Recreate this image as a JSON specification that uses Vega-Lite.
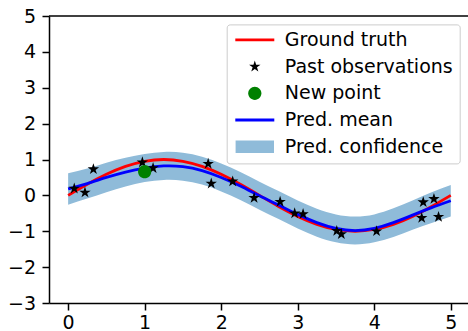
{
  "$schema": "https://vega.github.io/schema/vega-lite/v6.json",
  "width": 419,
  "height": 287,
  "autosize": {"type": "none"},
  "padding": {"left": 49, "top": 16, "right": 0, "bottom": 28},
  "background": "white",
  "config": {
    "view": {"stroke": null},
    "axis": {
      "labelFont": "DejaVu Sans",
      "labelFontSize": 19,
      "labelColor": "#000000",
      "tickColor": "#000000",
      "domainColor": "#000000",
      "tickWidth": 1.5,
      "domainWidth": 1.5,
      "tickSize": 7,
      "grid": false,
      "title": null,
      "labelFlush": false,
      "labelOverlap": false
    },
    "axisY": {"labelOverlap": false, "tickCount": 9, "labelPadding": 6.5},
    "axisX": {"labelOverlap": false, "tickCount": 6, "labelPadding": 3},
    "legend": {
      "orient": "none",
      "legendX": 177.7,
      "legendY": 8.4,
      "title": null,
      "padding": 6,
      "fillColor": "rgba(255,255,255,0.8)",
      "strokeColor": "#cccccc",
      "cornerRadius": 3,
      "labelFont": "DejaVu Sans",
      "labelFontSize": 19,
      "labelColor": "#000000",
      "labelLimit": 400,
      "rowPadding": 6.7,
      "symbolSize": 144,
      "symbolStrokeWidth": 0,
      "symbolOffset": 12.6,
      "labelOffset": 20.5
    }
  },
  "datasets": {
    "curve": [
      {"x": 0.0, "truth": 0.0, "mean": 0.18, "lo": -0.26, "hi": 0.62},
      {"x": 0.25, "truth": 0.309, "mean": 0.33, "lo": -0.09, "hi": 0.75},
      {"x": 0.5, "truth": 0.5878, "mean": 0.5, "lo": 0.09, "hi": 0.91},
      {"x": 0.75, "truth": 0.809, "mean": 0.65, "lo": 0.25, "hi": 1.05},
      {"x": 1.0, "truth": 0.9511, "mean": 0.76, "lo": 0.37, "hi": 1.15},
      {"x": 1.25, "truth": 1.0, "mean": 0.82, "lo": 0.43, "hi": 1.21},
      {"x": 1.5, "truth": 0.9511, "mean": 0.8, "lo": 0.41, "hi": 1.19},
      {"x": 1.75, "truth": 0.809, "mean": 0.69, "lo": 0.3, "hi": 1.08},
      {"x": 2.0, "truth": 0.5878, "mean": 0.5, "lo": 0.11, "hi": 0.89},
      {"x": 2.25, "truth": 0.309, "mean": 0.26, "lo": -0.13, "hi": 0.65},
      {"x": 2.5, "truth": 0.0, "mean": -0.01, "lo": -0.4, "hi": 0.38},
      {"x": 2.75, "truth": -0.309, "mean": -0.27, "lo": -0.66, "hi": 0.12},
      {"x": 3.0, "truth": -0.5878, "mean": -0.53, "lo": -0.92, "hi": -0.14},
      {"x": 3.25, "truth": -0.809, "mean": -0.76, "lo": -1.15, "hi": -0.37},
      {"x": 3.5, "truth": -0.9511, "mean": -0.92, "lo": -1.31, "hi": -0.53},
      {"x": 3.75, "truth": -1.0, "mean": -0.98, "lo": -1.37, "hi": -0.59},
      {"x": 4.0, "truth": -0.9511, "mean": -0.92, "lo": -1.31, "hi": -0.53},
      {"x": 4.25, "truth": -0.809, "mean": -0.76, "lo": -1.16, "hi": -0.36},
      {"x": 4.5, "truth": -0.5878, "mean": -0.55, "lo": -0.96, "hi": -0.14},
      {"x": 4.75, "truth": -0.309, "mean": -0.34, "lo": -0.77, "hi": 0.09},
      {"x": 5.0, "truth": 0.0, "mean": -0.15, "lo": -0.59, "hi": 0.29}
    ],
    "obs": [
      {"x": 0.08, "y": 0.19, "series": "Past observations"},
      {"x": 0.22, "y": 0.08, "series": "Past observations"},
      {"x": 0.33, "y": 0.73, "series": "Past observations"},
      {"x": 0.97, "y": 0.92, "series": "Past observations"},
      {"x": 1.11, "y": 0.76, "series": "Past observations"},
      {"x": 1.83, "y": 0.88, "series": "Past observations"},
      {"x": 1.87, "y": 0.33, "series": "Past observations"},
      {"x": 2.15, "y": 0.39, "series": "Past observations"},
      {"x": 2.43, "y": -0.07, "series": "Past observations"},
      {"x": 2.77, "y": -0.18, "series": "Past observations"},
      {"x": 2.96, "y": -0.5, "series": "Past observations"},
      {"x": 3.07, "y": -0.52, "series": "Past observations"},
      {"x": 3.51, "y": -0.99, "series": "Past observations"},
      {"x": 3.57, "y": -1.08, "series": "Past observations"},
      {"x": 4.03, "y": -1.0, "series": "Past observations"},
      {"x": 4.62, "y": -0.63, "series": "Past observations"},
      {"x": 4.64, "y": -0.19, "series": "Past observations"},
      {"x": 4.78, "y": -0.1, "series": "Past observations"},
      {"x": 4.84, "y": -0.6, "series": "Past observations"},
      {"x": 1.0, "y": 0.66, "series": "New point"}
    ]
  },
  "layer": [
    {
      "data": {"name": "curve"},
      "mark": {"type": "area", "color": "#8fbbd9", "opacity": 1, "interpolate": "natural"},
      "encoding": {
        "x": {
          "field": "x", "type": "quantitative",
          "scale": {"domain": [-0.25, 5.225], "nice": false, "zero": false},
          "axis": {"values": [0, 1, 2, 3, 4, 5], "format": "d", "labelOverlap": false}
        },
        "y": {
          "field": "lo", "type": "quantitative",
          "scale": {"domain": [-3, 5], "nice": false, "zero": false},
          "axis": {"values": [-3, -2, -1, 0, 1, 2, 3, 4, 5], "format": "d", "labelOverlap": false}
        },
        "y2": {"field": "hi"}
      }
    },
    {
      "data": {"name": "curve"},
      "mark": {"type": "line", "color": "#ff0000", "strokeWidth": 2.8, "interpolate": "natural"},
      "encoding": {
        "x": {"field": "x", "type": "quantitative", "axis": {"values": [0, 1, 2, 3, 4, 5], "format": "d", "labelOverlap": false}},
        "y": {"field": "truth", "type": "quantitative", "axis": {"values": [-3, -2, -1, 0, 1, 2, 3, 4, 5], "format": "d", "labelOverlap": false}}
      }
    },
    {
      "data": {"name": "curve"},
      "mark": {"type": "line", "color": "#0000ff", "strokeWidth": 2.8, "interpolate": "natural"},
      "encoding": {
        "x": {"field": "x", "type": "quantitative", "axis": {"values": [0, 1, 2, 3, 4, 5], "format": "d", "labelOverlap": false}},
        "y": {"field": "mean", "type": "quantitative", "axis": {"values": [-3, -2, -1, 0, 1, 2, 3, 4, 5], "format": "d", "labelOverlap": false}}
      }
    },
    {
      "data": {"name": "obs"},
      "mark": {"type": "point", "filled": true, "opacity": 1, "size": 144, "strokeWidth": 0},
      "encoding": {
        "x": {"field": "x", "type": "quantitative", "axis": {"values": [0, 1, 2, 3, 4, 5], "format": "d", "labelOverlap": false}},
        "y": {"field": "y", "type": "quantitative", "axis": {"values": [-3, -2, -1, 0, 1, 2, 3, 4, 5], "format": "d", "labelOverlap": false}},
        "color": {
          "field": "series", "type": "nominal",
          "scale": {
            "domain": ["Ground truth", "Past observations", "New point", "Pred. mean", "Pred. confidence"],
            "range": ["#ff0000", "#000000", "#008000", "#0000ff", "#8fbbd9"]
          },
          "legend": {
            "encode": {
              "symbols": {
                "update": {
                  "fill": {"signal": "scale('color', datum.value)"},
                  "strokeWidth": {"value": 0},
                  "size": {"value": 144},
                  "opacity": {"value": 1}
                }
              }
            }
          }
        },
        "shape": {
          "field": "series", "type": "nominal",
          "scale": {
            "domain": ["Ground truth", "Past observations", "New point", "Pred. mean", "Pred. confidence"],
            "range": [
              "M-3.25,-0.23H3.25V0.23H-3.25Z",
              "M0,-1L0.2245,-0.309L0.951,-0.309L0.3633,0.118L0.5878,0.809L0,0.382L-0.5878,0.809L-0.3633,0.118L-0.951,-0.309L-0.2245,-0.309Z",
              "M1.1,0A1.1,1.1 0 1,1 -1.1,0A1.1,1.1 0 1,1 1.1,0Z",
              "M-3.25,-0.23H3.25V0.23H-3.25Z",
              "M-3.2,-1.05H3.2V1.05H-3.2Z"
            ]
          }
        }
      }
    },
    {
      "data": {"values": [{}]},
      "mark": {"type": "rule", "color": "#000000", "strokeWidth": 1.5},
      "encoding": {"y": {"datum": 5, "type": "quantitative", "axis": {"values": [-3, -2, -1, 0, 1, 2, 3, 4, 5], "format": "d", "labelOverlap": false}}}
    }
  ]
}
